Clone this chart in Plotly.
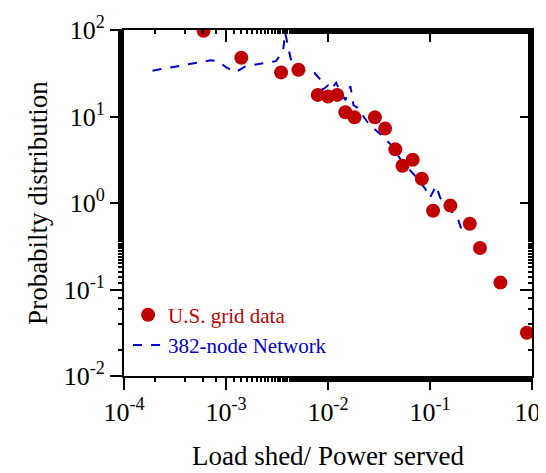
import numpy as np
import plotly.graph_objects as go

# log10 values
grid_logx = [-3.22, -2.85, -2.46, -2.29, -2.10, -2.00, -1.91, -1.83, -1.74, -1.54, -1.44,
             -1.34, -1.27, -1.17, -1.08, -0.97, -0.80, -0.61, -0.51, -0.31, -0.05]
grid_logy = [1.99, 1.68, 1.51, 1.54, 1.25, 1.23, 1.25, 1.05, 0.99, 0.99, 0.86,
             0.62, 0.43, 0.50, 0.28, -0.09, -0.03, -0.24, -0.52, -0.92, -1.50]

net_logx = [-3.72, -3.15, -3.08, -3.00, -2.91, -2.81, -2.51, -2.44, -2.42, -2.39, -2.36,
            -2.23, -2.13, -2.07, -2.05, -2.00, -1.97, -1.92, -1.88, -1.83, -1.78, -1.75,
            -1.71, -1.64, -1.59, -1.48, -1.38, -1.28, -1.15, -1.05, -1.00, -0.94, -0.90,
            -0.82, -0.73, -0.67]
net_logy = [1.53, 1.65, 1.64, 1.57, 1.51, 1.58, 1.64, 1.76, 1.97, 1.79, 1.64,
            1.53, 1.50, 1.42, 1.31, 1.36, 1.31, 1.39, 1.29, 1.19, 1.35, 1.13,
            1.10, 0.98, 0.90, 0.79, 0.67, 0.49, 0.32, 0.17, 0.06, 0.20, 0.06,
            -0.06, -0.17, -0.38]

x_exps = [-4, -3, -2, -1, 0]
y_exps = [-2, -1, 0, 1, 2]

FONT = "Liberation Serif, Times New Roman, serif"

fig = go.Figure()
fig.add_trace(go.Scatter(
    x=10 ** np.array(net_logx), y=10 ** np.array(net_logy), mode="lines",
    name="<span style='color:#0000cc'>382-node Network</span>",
    line=dict(color="#0000cc", width=2, dash="dash"),
))
fig.add_trace(go.Scatter(
    x=10 ** np.array(grid_logx), y=10 ** np.array(grid_logy), mode="markers",
    name="U.S. grid data", marker=dict(color="#c00000", size=14),
))
# invisible trace so the mirrored (top/right) axes are drawn
fig.add_trace(go.Scatter(x=[1e-3], y=[1], xaxis="x2", yaxis="y2", mode="markers",
                         marker=dict(opacity=0), showlegend=False, hoverinfo="skip"))

base = dict(
    type="log", showgrid=False, zeroline=False, showline=True, linecolor="black",
    linewidth=2, ticklen=12, tickwidth=2, tickcolor="black", automargin=False,
    tickfont=dict(family=FONT, size=26, color="black"),
)
outside_minor = dict(ticks="outside", ticklen=4, tickwidth=1.5, tickcolor="black", showgrid=False)
inside_minor = dict(ticks="inside", ticklen=4, tickwidth=1.5, tickcolor="black", showgrid=False)

fig.update_layout(
    xaxis=dict(range=[-4, 0], ticks="outside", minor=outside_minor,
               tickvals=[10.0 ** e for e in x_exps],
               ticktext=[f"10<sup>{e}</sup>" for e in x_exps],
               title=dict(text="Load shed/ Power served",
                          font=dict(family=FONT, size=27, color="black"), standoff=20),
               **base),
    yaxis=dict(range=[-2, 2], ticks="outside", minor=outside_minor,
               tickvals=[10.0 ** e for e in y_exps],
               ticktext=[f"10<sup>{e}</sup>" for e in y_exps],
               title=dict(text="Probabilty distribution",
                          font=dict(family=FONT, size=27, color="black"), standoff=8),
               **base),
    xaxis2=dict(range=[-4, 0], overlaying="x", side="top", ticks="inside", minor=inside_minor,
                tickvals=[10.0 ** e for e in x_exps], showticklabels=False, **base),
    yaxis2=dict(range=[-2, 2], overlaying="y", side="right", ticks="inside", minor=inside_minor,
                tickvals=[10.0 ** e for e in y_exps], showticklabels=False, **base),
    width=546, height=473, margin=dict(l=116, r=22, t=22, b=105),
    paper_bgcolor="white", plot_bgcolor="white", font=dict(family=FONT),
    showlegend=True,
    legend=dict(x=0.01, y=0.03, xanchor="left", yanchor="bottom", bgcolor="rgba(0,0,0,0)",
                traceorder="reversed", tracegroupgap=0, itemwidth=30,
                font=dict(family=FONT, size=21, color="#c00000")),
)
fig.write_html("out.html")
